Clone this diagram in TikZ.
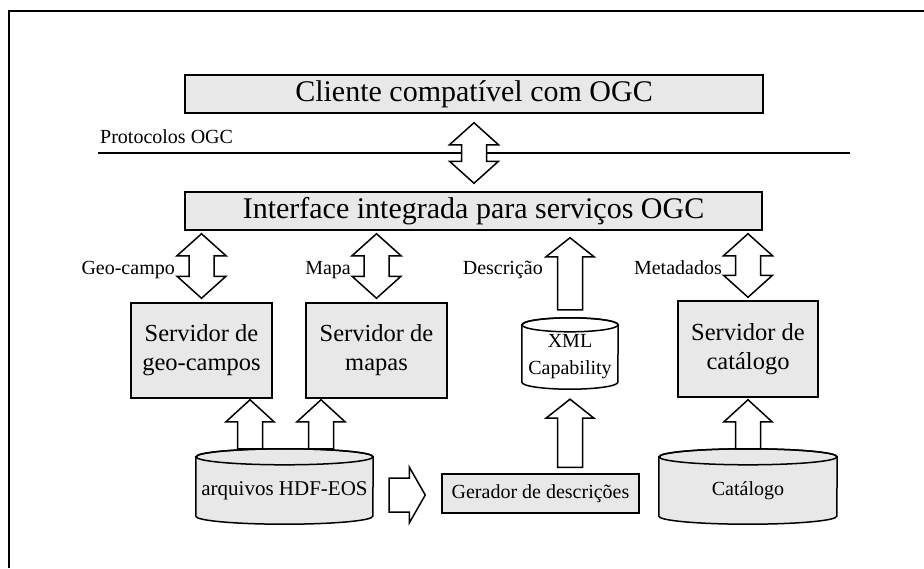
\documentclass[tikz,border=0pt]{standalone}
\usepackage{fontspec}
\setmainfont{Liberation Serif}
\usetikzlibrary{calc,backgrounds}
\definecolor{boxgray}{RGB}{232,232,232}
\tikzset{
  boxst/.style={draw, line width=1.5pt, fill=boxgray, inner sep=0pt, align=center},
  blk/.style={draw, line width=1.5pt, fill=white, line join=miter},
  lbl/.style={inner sep=0pt, font=\fontsize{20}{24}\selectfont},
  cylst/.style={draw, line width=1.5pt},
  cylnode/.style={inner sep=0pt, align=center},
}
\newcommand\upblk[3]{%
  \draw[blk] let \p1=#1, \p2=#2 in
  (\x2-12.5pt,\y1) -- (\x2-12.5pt,\y2-#3) -- (\x2-24pt,\y2-#3) -- (\x2,\y2)
  -- (\x2+24pt,\y2-#3) -- (\x2+12.5pt,\y2-#3) -- (\x2+12.5pt,\y1) -- cycle;}
\newcommand\dblblk[2]{%
  \draw[blk] let \p1=#1, \p2=#2 in
  (\x2,\y2) -- (\x2+24.5pt,\y2-22pt) -- (\x2+12.5pt,\y2-22pt) -- (\x2+12.5pt,\y1+22pt)
  -- (\x2+24.5pt,\y1+22pt) -- (\x2,\y1) -- (\x2-24.5pt,\y1+22pt) -- (\x2-12.5pt,\y1+22pt)
  -- (\x2-12.5pt,\y2-22pt) -- (\x2-24.5pt,\y2-22pt) -- cycle;}
\newcommand\rblk[2]{%
  \draw[blk] let \p1=#1, \p2=#2 in
  (\x1,\y1+17pt) -- (\x2-16pt,\y1+17pt) -- (\x2-16pt,\y1+28pt) -- (\x2,\y1)
  -- (\x2-16pt,\y1-28pt) -- (\x2-16pt,\y1-17pt) -- (\x1,\y1-17pt) -- cycle;}
\newcommand\cylshape[4]{%
  \draw[cylst, fill=#4] (#1.north west) -- ([yshift=#3]#1.south west)
    arc[start angle=180, end angle=360, x radius=#2, y radius=#3]
    -- (#1.north east) arc[start angle=0, end angle=180, x radius=#2, y radius=#3] -- cycle;
  \draw[cylst] (#1.north) ellipse[x radius=#2, y radius=#3];}
\begin{document}
\begin{tikzpicture}[x=1pt,y=-1pt]
\useasboundingbox (0,0) rectangle (924,568);
% frame
\coordinate (fbl) at (9,568); \coordinate (ftl) at (9,11); \coordinate (ftr) at (924,11);
\draw[line width=2.3pt] (fbl) -- (ftl) -- (ftr);
% boxes
\node[boxst, minimum width=578pt, minimum height=38pt, font=\fontsize{30}{36}\selectfont] (cliente) at (474,94) {Cliente compatível com OGC};
\node[boxst, minimum width=577pt, minimum height=38pt, font=\fontsize{30}{36}\selectfont] (iface) at (473.5,211) {Interface integrada para serviços OGC};
\node[boxst, minimum width=141pt, minimum height=95pt, font=\fontsize{24.5}{29}\selectfont] (geo) at (201.5,350.5) {Servidor de\\geo-campos};
\node[boxst, minimum width=141pt, minimum height=95pt, font=\fontsize{24.5}{29}\selectfont] (mapas) at (376.5,350.5) {Servidor de\\mapas};
\node[boxst, minimum width=140pt, minimum height=96pt, font=\fontsize{24.5}{29}\selectfont] (catsrv) at (748,349) {Servidor de\\catálogo};
\node[boxst, minimum width=197pt, minimum height=39pt, font=\fontsize{20}{24}\selectfont] (gerador) at (540.5,493.5) {Gerador de descrições};
% cylinders (node = body below top ellipse centre)
\node[cylnode, minimum width=96pt, minimum height=64pt, font=\fontsize{20}{27}\selectfont] (xml) at (570,357) {XML\\Capability};
\node[cylnode, minimum width=177pt, minimum height=67pt, font=\fontsize{21}{25}\selectfont] (hdf) at (284.5,490.5) {arquivos HDF-EOS};
\node[cylnode, minimum width=178pt, minimum height=67pt, font=\fontsize{20}{24}\selectfont] (catcyl) at (748,490.5) {Catálogo};
\begin{scope}[on background layer]
  \cylshape{xml}{48pt}{7pt}{white}
  \cylshape{hdf}{88.5pt}{8pt}{boxgray}
  \cylshape{catcyl}{89pt}{8pt}{boxgray}
\end{scope}
% protocol line
\coordinate (pl) at (98,153); \coordinate (pr) at (850,153);
\draw[line width=1.7pt] (pl) -- (pr);
\node[lbl, anchor=base west] (proto) at (100,143) {Protocolos OGC};
% arrows
\dblblk{($(iface.north)+(0,-8)$)}{($(cliente.south)+(0,9)$)}
\dblblk{($(geo.north)+(0,-4)$)}{($(iface.south -| geo.north)+(0,3)$)}
\dblblk{($(mapas.north)+(0,-4)$)}{($(iface.south -| mapas.north)+(0,3)$)}
\dblblk{($(catsrv.north)+(0,-3)$)}{($(iface.south -| catsrv.north)+(0,3)$)}
\upblk{($(xml.north)+(0,-15)$)}{($(iface.south -| xml.north)+(0,7)$)}{19pt}
\upblk{($(hdf.north)+(-34.5,-8)$)}{($(hdf.north |- geo.south)+(-34.5,1)$)}{22pt}
\upblk{($(hdf.north)+(36.5,-8)$)}{($(hdf.north |- mapas.south)+(36.5,1)$)}{22pt}
\upblk{($(gerador.north -| xml.south)+(0,-6)$)}{($(xml.south)+(0,10)$)}{19pt}
\upblk{($(catcyl.north)+(0,-8)$)}{($(catsrv.south)+(0,2)$)}{22pt}
\rblk{($(hdf.east |- gerador.west)+(16,1.5)$)}{($(gerador.west)+(-16,1.5)$)}
% labels
\node[lbl, anchor=base east] (lgeo) at (175,274) {Geo-campo};
\node[lbl, anchor=base east] (lmapa) at (351,274) {Mapa};
\node[lbl, anchor=base east] (ldesc) at (543,274) {Descrição};
\node[lbl, anchor=base east] (lmeta) at (722,274) {Metadados};
\end{tikzpicture}
\end{document}
